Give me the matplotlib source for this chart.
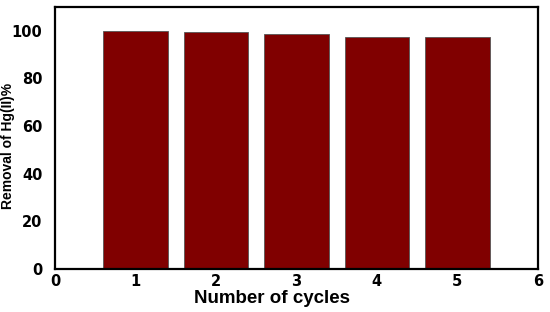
import matplotlib
matplotlib.use("Agg")
import matplotlib.pyplot as plt

cycles = [1, 2, 3, 4, 5]
removal = [100.0, 99.6, 98.7, 97.3, 97.2]
x_ticks = [0, 1, 2, 3, 4, 5, 6]
y_ticks = [0, 20, 40, 60, 80, 100]

plt.rcParams["font.family"] = ["Liberation Sans", "DejaVu Sans"]

fig = plt.figure(figsize=(5.5, 3.12), dpi=100)
ax = fig.add_axes([0.1, 0.138, 0.878, 0.84])

ax.bar(cycles, removal, width=0.8, color="#800000", edgecolor="#555555", linewidth=0.6)

ax.set_xlim(0, 6)
ax.set_ylim(0, 110)
ax.set_xticks(x_ticks)
ax.set_yticks(y_ticks)
ax.tick_params(axis="y", length=0, pad=9)
ax.tick_params(axis="x", length=0, pad=4)
for lbl in ax.get_xticklabels() + ax.get_yticklabels():
    lbl.set_fontweight("bold")
    lbl.set_fontfamily("DejaVu Sans")
    lbl.set_fontsize(10.5)
for s in ax.spines.values():
    s.set_linewidth(1.6)

ax.set_xlabel("Number of cycles", fontsize=13.5, fontweight="bold", labelpad=0)
ax.xaxis.set_label_coords(0.45, -0.08)
ax.set_ylabel("Removal of Hg(II)%", fontsize=10, fontweight="bold")
ax.yaxis.set_label_coords(-0.082, 0.47)

fig.savefig("out.png", dpi=100)
